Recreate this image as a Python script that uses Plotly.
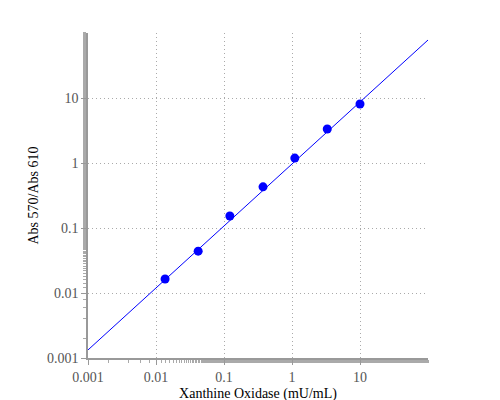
import plotly.graph_objects as go

conc = [0.0136, 0.0417, 0.122, 0.375, 1.1, 3.3, 10]
ratio = [0.0164, 0.044, 0.153, 0.43, 1.19, 3.33, 8.1]
fit_x = [0.001, 100]
fit_y = [0.00133, 78]

fig = go.Figure()
fig.add_trace(go.Scatter(x=fit_x, y=fit_y, mode='lines',
                         line=dict(color='blue', width=1), showlegend=False))
fig.add_trace(go.Scatter(x=conc, y=ratio, mode='markers',
                         marker=dict(color='blue', size=9), showlegend=False))

axis = dict(type='log', showline=True, linecolor='#999', linewidth=1.5,
            ticks='outside', ticklen=5, tickcolor='#999', tickwidth=1,
            gridcolor='#aaa', griddash='1px,3px', gridwidth=1, zeroline=False,
            automargin=False,
            minor=dict(ticks='outside', ticklen=3, tickcolor='#aaa', tickwidth=1, showgrid=False),
            tickfont=dict(size=14, color='#555'), exponentformat='none')

fig.update_layout(
    width=500, height=400,
    margin=dict(l=80, r=80, t=25, b=50),
    plot_bgcolor='white', paper_bgcolor='white',
    font=dict(family='Liberation Serif', color='black'),
    xaxis=dict(axis, range=[-3, 2], tickvals=[0.001, 0.01, 0.1, 1, 10],
               ticktext=['0.001', '0.01', '0.1', '1', '10'],
               title=dict(text='Xanthine Oxidase (mU/mL)', font=dict(size=14), standoff=5)),
    yaxis=dict(axis, range=[-3, 2], tickvals=[0.001, 0.01, 0.1, 1, 10],
               ticktext=['0.001', '0.01', '0.1', '1', '10'],
               title=dict(text='Abs 570/Abs 610', font=dict(size=14), standoff=5)),
)

fig.write_html("out.html")
